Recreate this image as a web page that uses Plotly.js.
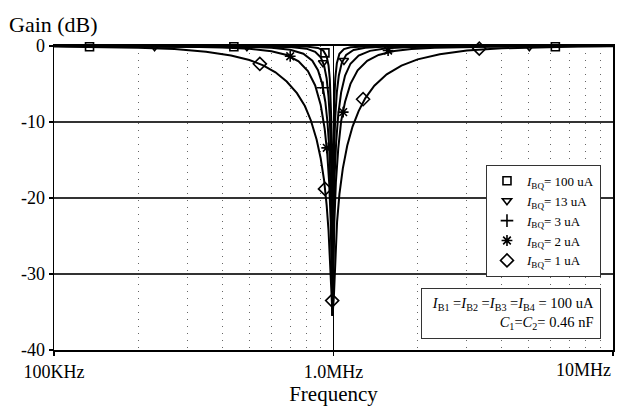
<!DOCTYPE html>
<html><head><meta charset="utf-8">
<script src="https://cdn.plot.ly/plotly-3.0.1.min.js"></script>
<style>html,body{margin:0;padding:0;background:#fff;}#chart{width:622px;height:408px;}</style>
</head><body><div id="chart"></div>
<script>
// Frequencies in kHz, gains in dB
const freq1uA = [100,150,200,270,350,430,500,560,620,680,740,790,830,870,900,925,945,960,972,982,992,1003,1015,1030,1050,1080,1120,1170,1230,1300,1400,1550,1750,2000,2400,3000,4000,5500,7500,10000];
const gain1uA = [-0.05,-0.12,-0.22,-0.41,-0.75,-1.24,-1.84,-2.54,-3.46,-4.67,-6.2,-7.9,-9.8,-12.3,-14.8,-17.6,-20.9,-24.3,-28.4,-33.0,-35.5,-33.0,-27.4,-23.1,-19.5,-16.1,-13.1,-10.6,-8.56,-6.85,-5.23,-3.73,-2.57,-1.76,-1.09,-0.60,-0.30,-0.14,-0.06,-0.03];

const freq2uA = [100,200,300,400,500,600,680,750,810,860,900,930,950,965,977,985,992,999,1007,1020,1040,1065,1100,1150,1220,1320,1450,1650,1900,2300,3000,4000,6000,10000];
const gain2uA = [-0.01,-0.04,-0.09,-0.19,-0.36,-0.69,-1.19,-2.01,-3.29,-5.19,-7.77,-10.9,-14.2,-18.0,-23.1,-29.7,-35.5,-29.8,-23.2,-17.9,-13.5,-9.89,-7.33,-4.98,-3.20,-1.94,-1.18,-0.67,-0.40,-0.23,-0.11,-0.06,-0.02,-0.01];

const freq3uA = [100,300,500,600,700,780,840,880,910,935,952,965,975,983,988,992,996,1001,1010,1022,1040,1065,1100,1150,1230,1350,1550,1900,2500,4000,10000];
const gain3uA = [0,-0.03,-0.12,-0.24,-0.5,-1.02,-1.93,-3.19,-4.9,-7.37,-10.1,-13.3,-17.3,-22.8,-29.9,-35.5,-29.8,-22.8,-16.9,-12.7,-9.0,-6.1,-3.9,-2.33,-1.25,-0.64,-0.31,-0.14,-0.06,-0.02,0];

const freq13uA = [100,500,700,800,860,900,925,945,960,970,978,984,988,992,996,1000,1006,1015,1028,1045,1070,1110,1180,1300,1500,2000,10000];
const gain13uA = [0,-0.03,-0.13,-0.35,-0.76,-1.5,-2.55,-4.25,-6.66,-9.42,-13.1,-17.8,-23.9,-35.5,-23.9,-17.8,-13.2,-9.25,-6.07,-3.88,-2.25,-1.17,-0.52,-0.22,-0.09,-0.03,0];

const freq100uA = [100,500,800,880,920,945,960,970,977,982,986,989,992,995,998,1002,1007,1015,1028,1050,1090,1150,1300,2000,10000];
const gain100uA = [0,-0.01,-0.08,-0.25,-0.62,-1.36,-2.56,-4.34,-6.75,-9.77,-14.0,-19.8,-35.5,-19.8,-14.0,-9.8,-6.84,-4.23,-2.26,-1.03,-0.4,-0.17,-0.05,0,0];

// Marker positions on each trace
const mark100uAF = [134,440,932,6220];      const mark100uAG = [-0.1,-0.1,-0.9,-0.1];
const mark13uAF  = [229,490,917,1090,5020]; const mark13uAG  = [-0.1,-0.1,-2.2,-1.9,-0.1];
const mark3uAF   = [917];                   const mark3uAG   = [-5.5];
const mark2uAF   = [700,946,1083,1568];     const mark2uAG   = [-1.35,-13.4,-8.7,-0.6];
const mark1uAF   = [545,932,989,1276,3323]; const mark1uAG   = [-2.35,-18.8,-33.5,-7.0,-0.35];

const seriesNames = ['<i>I</i><sub>BQ</sub>= 100 uA','<i>I</i><sub>BQ</sub>= 13 uA','<i>I</i><sub>BQ</sub>= 3 uA','<i>I</i><sub>BQ</sub>= 2 uA','<i>I</i><sub>BQ</sub>= 1 uA'];
const xTickVals = [100,1000,10000];
const xTickLabels = ['100KHz','1.0MHz','10MHz'];
const yTickVals = [0,-10,-20,-30,-40];
const yTickLabels = ['0','-10','-20','-30','-40'];

const curves = [[freq100uA,gain100uA],[freq13uA,gain13uA],[freq3uA,gain3uA],[freq2uA,gain2uA],[freq1uA,gain1uA]];
const marks = [[mark100uAF,mark100uAG],[mark13uAF,mark13uAG],[mark3uAF,mark3uAG],[mark2uAF,mark2uAG],[mark1uAF,mark1uAG]];
const symbols = ['square-open','triangle-down-open','cross-thin-open','asterisk-open','diamond-open'];
const sizes = [8,8,9,9,10];

const FONT = 'Liberation Serif, Times New Roman, serif';
const traces = [];
curves.forEach((c,i)=>{
  traces.push({x:c[0], y:c[1], type:'scatter', mode:'lines', showlegend:false,
    line:{color:'black', width:2}, hoverinfo:'skip'});
});
marks.forEach((m,i)=>{
  traces.push({x:m[0], y:m[1], type:'scatter', mode:'markers', name:seriesNames[i],
    cliponaxis:false,
    marker:{symbol:symbols[i], size:sizes[i], color:'black', line:{color:'black', width:1.6}}});
});

const layout = {
  width:622, height:408,
  margin:{l:54, r:9, t:46, b:58},
  paper_bgcolor:'white', plot_bgcolor:'white',
  font:{family:FONT, color:'black', size:18},
  showlegend:true,
  legend:{x:0.9785, xanchor:'right', y:0.609, yanchor:'top', bgcolor:'white',
    bordercolor:'#333', borderwidth:1, font:{family:FONT, size:13}, itemwidth:30, tracegroupgap:0},
  xaxis:{type:'log', range:[2,4], tickvals:xTickVals, ticktext:[xTickLabels[0],xTickLabels[1],''],
    ticks:'outside', ticklen:4, tickwidth:1.5, tickcolor:'black',
    showline:true, linecolor:'black', linewidth:2, mirror:true,
    showgrid:true, gridcolor:'black', gridwidth:1.5, zeroline:false,
    tickfont:{family:FONT, size:18},
    minor:{dtick:'D1', showgrid:true, gridcolor:'#666', griddash:'1px,6px', gridwidth:1, ticks:''},
    title:{text:'Frequency', font:{family:FONT, size:21}, standoff:5}},
  yaxis:{range:[-40,0], tickvals:yTickVals, ticktext:yTickLabels,
    ticks:'outside', ticklen:4, tickwidth:1.5, tickcolor:'black',
    showline:true, linecolor:'black', linewidth:1.5, mirror:true,
    showgrid:true, gridcolor:'#333', gridwidth:1.5, zeroline:false,
    tickfont:{family:FONT, size:18}},
  annotations:[
    {xref:'paper', yref:'paper', x:-0.0833, y:1.072, xanchor:'left', yanchor:'middle',
     text:'Gain (dB)', showarrow:false, font:{family:FONT, size:22}},
    {xref:'paper', yref:'paper', x:1.0, y:0, xanchor:'right', yanchor:'top', yshift:-8,
     text:xTickLabels[2], showarrow:false, font:{family:FONT, size:18}},
    {xref:'paper', yref:'paper', x:0.9785, y:0.204, xanchor:'right', yanchor:'top',
     text:'<i>I</i><sub>B1</sub> =<i>I</i><sub>B2</sub> =<i>I</i><sub>B3</sub> =<i>I</i><sub>B4</sub> = 100 uA<br><i>C</i><sub>1</sub>=<i>C</i><sub>2</sub>= 0.46 nF',
     align:'right', showarrow:false, width:166, bgcolor:'white', bordercolor:'#333', borderwidth:1, borderpad:6,
     font:{family:FONT, size:14.5}}
  ]
};
Plotly.newPlot('chart', traces, layout, {displayModeBar:false, staticPlot:true});
</script>
</body></html>
